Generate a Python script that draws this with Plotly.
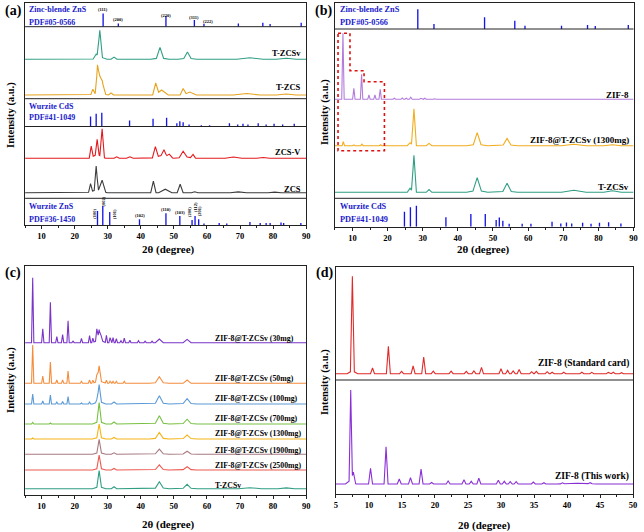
import plotly.graph_objects as go

W, H = 644, 532
FONT = "Liberation Serif"
BLUE = "#1414e6"
TXTBLUE = "#1a1acc"
FRAME = "#222222"

# ---------------- reference cards (2θ, relative stick height) ----------------
zb_pos = [28.6, 33.2, 47.6, 56.2, 59.1, 69.5, 76.9, 79.1, 88.5]
zb_int_a = [13.3, 3.3, 10.7, 6.7, 2.7, 3.3, 4.0, 2.7, 4.0]
zb_int_b = [19.7, 5.0, 11.7, 8.3, 3.3, 3.3, 4.0, 3.0, 4.0]
zb_hkl = ["(111)", "(200)", "(220)", "(311)", "(222)"]
zb_hkl_x = [28.6, 33.2, 47.7, 56.2, 60.3]
zb_hkl_y = [215, 205, 209, 207, 203]

cds_pos = [24.8, 26.5, 28.2, 36.6, 43.7, 47.8, 50.9, 51.8, 52.8, 54.6, 58.3,
           60.8, 66.8, 69.3, 70.9, 72.4, 75.5, 77.9, 80.3, 82.9, 86.4]
cds_int_a = [10, 12.7, 13.7, 6, 7.7, 8.7, 3.3, 5.3, 4.3, 2, 1.3,
             1.3, 3.3, 2, 2.7, 2, 3.3, 2, 2.7, 2, 2.7]
cds_int_b = [15, 19.4, 21, 9.4, 12.7, 12.7, 6.7, 9.3, 6, 3, 3,
             3, 5, 3.3, 4.3, 3.3, 4, 3, 4, 4.5, 3.3]

zns_pos = [26.9, 28.5, 30.6, 39.6, 47.6, 51.8, 55.5, 56.4, 57.5, 59.1,
           63.7, 66.0, 73.0, 76.1, 77.9, 79.1, 82.4, 83.2, 88.4]
zns_int = [14, 19, 13, 5.7, 11.7, 9, 5, 9, 5.7, 1.5,
           2, 1.5, 3, 2, 2, 2, 2.5, 2, 2]
zns_hkl = ["(100)", "(002)", "(101)", "(102)", "(110)", "(103)", "(200)", "(112)", "(201)"]
zns_hkl_x = [25.8, 28.6, 32.0, 39.7, 47.7, 51.7, 54.7, 56.4, 57.8]
zns_hkl_y = [11, 23.5, 11, 9.3, 16, 12.3, 13.3, 18, 13.3]
zns_hkl_rot = [-90, -90, -90, 0, 0, 0, -90, -90, -90]

# ---------------- measured patterns: (2θ, peak height, half base width) ----------------
a_tzcsv = [(26.5, 4, 0.9), (27.6, 26.5, 0.8), (27.6, 2.5, 2.2), (31.9, 2.2, 0.9),
           (45.8, 10.5, 1.1), (45.8, 1.5, 2.8), (54.1, 6, 1.1), (54.1, 1.2, 2.8),
           (73.0, 1.5, 4), (84.0, 1.0, 3)]
a_tzcs = [(25.5, 5, 0.6), (26.9, 25, 0.7), (27.6, 15, 0.9), (28.4, 11, 1.0), (27.2, 2, 3),
          (31.0, 2, 0.8), (44.5, 11.5, 0.9), (46.3, 5, 2.0), (52.8, 6.5, 0.9),
          (54.8, 3, 2.0), (72.0, 1.5, 4), (84.0, 1.0, 3)]
a_zcsv = [(25.0, 11, 0.6), (26.8, 15, 0.6), (28.3, 28, 0.7), (26.8, 4, 2.5),
          (32.7, 1.5, 0.8), (36.7, 1.5, 1.0), (44.4, 10.5, 0.9), (47.0, 6, 0.9),
          (48.6, 3, 1.0), (46.5, 3, 3.5), (52.8, 6, 1.2), (55.8, 3.5, 0.8),
          (53.5, 1.5, 3), (68.0, 1.3, 2.5), (77.0, 0.8, 2)]
a_zcs = [(24.8, 8, 0.6), (26.5, 24, 0.6), (28.3, 11, 1.1), (26.8, 3, 3),
         (43.8, 11.5, 0.8), (47.4, 3.5, 2.0), (51.9, 8.5, 0.9), (56.3, 1, 1),
         (69.5, 0.8, 2.5), (80.5, 0.6, 2)]

b_zif8 = [(7.3, 66, 0.35), (10.4, 11, 0.35), (12.6, 25, 0.35), (14.7, 4.3, 0.35),
          (16.4, 4.3, 0.35), (17.9, 10, 0.35), (21.9, 1.0, 0.4), (24.2, 1.3, 0.4),
          (25.3, 1.0, 0.4), (26.6, 2.0, 0.4), (29.5, 1.0, 0.4), (30.6, 1.0, 0.4),
          (33.4, 0.5, 0.4), (36.2, 0.7, 0.4)]
b_comp = [(7.4, 4, 0.35), (10.4, 0.8, 0.35), (12.7, 1.5, 0.35), (18.0, 1, 0.35),
          (26.4, 3, 0.8), (27.5, 37, 0.7), (31.8, 2.3, 0.8), (45.5, 11.5, 1.1),
          (45.5, 1.5, 3), (54.0, 6.3, 1.1), (54.0, 1, 3), (73.0, 1.5, 3.5), (84.0, 1.0, 2.5)]
b_tzcsv = [(26.4, 4, 0.8), (27.5, 37, 0.7), (31.8, 2.7, 0.8), (45.5, 12.7, 1.2),
           (45.5, 2, 3), (54.0, 7.8, 1.2), (54.0, 1.2, 3), (73.0, 2, 3.5), (84.0, 1.5, 2.5)]

c_30 = [(7.3, 65, 0.35), (10.35, 14, 0.35), (12.65, 40.5, 0.35), (14.6, 6, 0.35),
        (16.35, 8, 0.35), (18.0, 22, 0.35), (19.5, 1.5, 0.35), (22.05, 4.3, 0.35),
        (24.5, 7, 0.35), (25.5, 4.3, 0.35), (26.7, 12, 0.4), (27.4, 10, 0.6),
        (28.0, 5, 0.5), (27.4, 3, 2), (29.6, 7.3, 0.35), (30.7, 5, 0.35),
        (31.6, 5, 0.35), (32.6, 4, 0.35), (34.0, 2, 0.35), (35.0, 4.5, 0.35),
        (36.7, 2.5, 0.35), (39.3, 2, 0.35), (41.3, 1.5, 0.35), (43.4, 1.5, 0.35),
        (45.6, 3.7, 1.2), (54.0, 3.3, 1.2)]
c_50 = [(7.3, 38.3, 0.35), (10.35, 7.3, 0.35), (12.65, 21.3, 0.35), (14.6, 3.3, 0.35),
        (16.35, 3.5, 0.35), (18.0, 12.3, 0.35), (22.05, 2, 0.35), (24.5, 3.3, 0.35),
        (25.5, 3, 0.35), (26.7, 7, 0.4), (27.4, 15, 0.7), (27.4, 2.5, 2),
        (29.6, 3, 0.35), (30.7, 2, 0.35), (31.6, 2, 0.35), (32.6, 2, 0.35),
        (35.0, 2, 0.35), (45.6, 5.5, 1.2), (45.6, 1, 3), (54.0, 3.3, 1.2)]
c_100 = [(7.3, 10, 0.35), (10.35, 3, 0.35), (12.65, 9, 0.35), (14.6, 2, 0.35),
         (16.35, 2.5, 0.35), (18.0, 7.3, 0.35), (22.05, 1, 0.35), (24.5, 2, 0.35),
         (26.7, 3, 0.4), (27.4, 17, 0.7), (27.4, 2.5, 2), (31.9, 2, 0.8),
         (45.6, 7, 1.2), (45.6, 1.2, 3), (54.0, 4.5, 1.2), (54.0, 0.8, 3)]
c_700 = [(7.3, 1.5, 0.35), (12.65, 1, 0.35), (27.4, 19, 0.7), (27.4, 2.5, 2),
         (31.9, 2, 0.8), (45.6, 7, 1.2), (45.6, 1.2, 3), (54.0, 4, 1.2), (54.0, 0.8, 3)]
c_1300 = [(7.3, 1, 0.35), (27.4, 13, 0.7), (27.4, 2, 2), (31.9, 1.5, 0.8),
          (45.6, 5.5, 1.2), (45.6, 1, 3), (54.0, 3.3, 1.2), (54.0, 0.7, 3)]
c_1900 = [(27.4, 13, 0.7), (27.4, 2, 2), (31.9, 1.5, 0.8), (45.6, 4.3, 1.2),
          (45.6, 0.8, 3), (54.0, 2.5, 1.2), (54.0, 0.6, 3)]
c_2500 = [(27.4, 13, 0.7), (27.4, 2, 2), (31.9, 1.5, 0.8), (45.6, 4.3, 1.2),
          (45.6, 0.8, 3), (54.0, 2.7, 1.2), (54.0, 0.6, 3)]
c_tzcsv = [(27.4, 16, 0.7), (27.4, 2, 2), (31.9, 2, 0.8), (45.6, 6, 1.2),
           (45.6, 1, 3), (54.0, 3.7, 1.2), (54.0, 0.7, 3), (73.0, 1, 3.5), (84.0, 0.8, 2.5)]

d_std = [(7.5, 94.5, 0.3), (7.5, 3, 0.8), (10.55, 5.7, 0.3), (12.95, 27.3, 0.3),
         (14.95, 2.3, 0.3), (16.7, 7.7, 0.3), (18.3, 16.7, 0.3), (19.75, 2.5, 0.3),
         (22.45, 2.5, 0.3), (24.75, 2.3, 0.3), (25.9, 2.7, 0.3), (27.05, 6.3, 0.3),
         (30.0, 5, 0.3), (31.0, 3.3, 0.3), (31.85, 2.7, 0.3), (32.75, 4.3, 0.3),
         (34.65, 2, 0.3), (35.35, 2.3, 0.3), (37.0, 2, 0.3), (37.75, 1.5, 0.3),
         (39.5, 1.5, 0.3), (42.25, 1.5, 0.3), (43.75, 1.3, 0.3), (46.25, 1.3, 0.3),
         (47.0, 1.5, 0.3), (48.25, 1.0, 0.3)]
d_this = [(7.25, 90, 0.25), (7.25, 4, 0.8), (7.65, 10, 0.35), (10.25, 15.7, 0.3),
          (12.6, 37.3, 0.3), (14.6, 5, 0.3), (16.3, 6.3, 0.3), (17.9, 15, 0.3),
          (19.5, 1.5, 0.3), (22.0, 3, 0.3), (24.4, 4.3, 0.3), (25.5, 2.7, 0.3),
          (26.65, 5.7, 0.3), (29.6, 3.7, 0.3), (30.5, 2.7, 0.3), (31.4, 2.3, 0.3),
          (32.3, 2.3, 0.3), (34.9, 2, 0.3), (36.5, 1.3, 0.3), (39.3, 1, 0.3),
          (41.5, 0.8, 3), (43.5, 1, 0.3)]

# highlight box in panel (b) (2θ / intensity units of that panel)
box_x = [5.9, 9.3, 9.3, 13.3, 13.3, 19.1, 19.1, 5.9]
box_y = [193.4, 193.4, 156.0, 156.0, 145.0, 145.0, 76.0, 76.0]

# ---------------- panel geometry (pixels) ----------------
PANEL = {
    "a": dict(n="", px=(23.3, 307.0), py=(3.0, 225.0), xr=(5, 90), dt=10),
    "b": dict(n="2", px=(336.0, 637.5), py=(3.0, 226.7), xr=(5, 90), dt=10),
    "c": dict(n="3", px=(23.3, 307.0), py=(266.0, 495.0), xr=(5, 90), dt=10),
    "d": dict(n="4", px=(337.0, 637.0), py=(267.0, 494.0), xr=(5, 50), dt=5),
}


def tri_profile(peaks, x0, x1):
    pts = {x0, x1}
    for p, h, w in peaks:
        pts.update((p - w, p, p + w))
    xs = sorted(x for x in pts if x0 <= x <= x1)
    ys = [sum(h * max(0.0, 1 - abs(x - p) / w) for p, h, w in peaks) for x in xs]
    return xs, ys


fig = go.Figure()


def axes(k):
    n = PANEL[k]["n"]
    return "x" + n, "y" + n


def curve(k, peaks, base, color):
    xa, ya = axes(k)
    xs, ys = tri_profile(peaks, *PANEL[k]["xr"])
    fig.add_trace(go.Scatter(x=xs, y=[base + v for v in ys], mode="lines",
                             line=dict(color=color, width=1.1), xaxis=xa, yaxis=ya,
                             hoverinfo="skip", showlegend=False))


def sticks(k, pos, hgt, base, width):
    xa, ya = axes(k)
    fig.add_trace(go.Bar(x=pos, y=hgt, base=base, width=width, xaxis=xa, yaxis=ya,
                         marker=dict(color=BLUE, line=dict(width=0)),
                         hoverinfo="skip", showlegend=False))


def hline(k, y):
    xa, ya = axes(k)
    fig.add_shape(type="line", xref=xa + " domain", yref=ya, x0=0, x1=1, y0=y, y1=y,
                  line=dict(color=FRAME, width=1))


def text(k, x, y, s, size, color="black", anchor="right", angle=0):
    xa, ya = axes(k)
    fig.add_annotation(x=x, y=y, xref=xa, yref=ya, text=s, showarrow=False,
                       xanchor=anchor, yanchor="middle", textangle=angle,
                       font=dict(family=FONT, size=size, color=color, weight="bold"))


def ptext(px, py, s, size, angle=0):
    fig.add_annotation(x=px / W, y=1 - py / H, xref="paper", yref="paper", text=s,
                       showarrow=False, xanchor="center", yanchor="middle",
                       textangle=angle,
                       font=dict(family=FONT, size=size, color="black", weight="bold"))


# ---- panel (a)
sticks("a", zb_pos, zb_int_a, 198.3, 0.4)
curve("a", a_tzcsv, 165.7, "#2f9e83")
curve("a", a_tzcs, 130.0, "#e6a31e")
sticks("a", cds_pos, cds_int_a, 98.5, 0.4)
curve("a", a_zcsv, 66.7, "#e3191c")
curve("a", a_zcs, 32.3, "#3c3c3c")
sticks("a", zns_pos, zns_int, 0, 0.4)
for y in (198.3, 126.3, 98.5, 26.7):
    hline("a", y)
text("a", 5.6, 215.5, "Zinc-blende ZnS", 8, TXTBLUE, "left")
text("a", 5.6, 202.5, "PDF#05-0566", 8, TXTBLUE, "left")
text("a", 5.6, 118, "Wurzite CdS", 8, TXTBLUE, "left")
text("a", 5.6, 107, "PDF#41-1049", 8, TXTBLUE, "left")
text("a", 5.6, 18.3, "Wurzite ZnS", 8, TXTBLUE, "left")
text("a", 5.6, 5.5, "PDF#36-1450", 8, TXTBLUE, "left")
for s, x, y in zip(zb_hkl, zb_hkl_x, zb_hkl_y):
    text("a", x, y, s, 4.5, "black", "center")
for s, x, y, r in zip(zns_hkl, zns_hkl_x, zns_hkl_y, zns_hkl_rot):
    text("a", x, y, s, 4.5, "black", "center", r)
text("a", 89.2, 172, "T-ZCSv", 8.5)
text("a", 89.2, 138, "T-ZCS", 8.5)
text("a", 89.2, 73.3, "ZCS-V", 8.5)
text("a", 89.2, 36, "ZCS", 8.5)

# ---- panel (b)
sticks("b", zb_pos, zb_int_b, 197.7, 0.38)
curve("b", b_zif8, 127.4, "#b27bdc")
curve("b", b_comp, 81.0, "#f2ac1c")
curve("b", b_tzcsv, 34.4, "#2f9e83")
sticks("b", cds_pos, cds_int_b, 0, 0.38)
for y in (197.7, 28.4):
    hline("b", y)
fig.add_trace(go.Scatter(x=box_x + box_x[:1], y=box_y + box_y[:1], mode="lines",
                         line=dict(color="#e01010", width=1.6, dash="dot"),
                         xaxis="x2", yaxis="y2", hoverinfo="skip", showlegend=False))
text("b", 5.8, 217.4, "Zinc-blende ZnS", 8.3, TXTBLUE, "left")
text("b", 5.8, 204, "PDF#05-0566", 8.3, TXTBLUE, "left")
text("b", 5.8, 20.7, "Wurzite CdS", 8.3, TXTBLUE, "left")
text("b", 5.8, 7.4, "PDF#41-1049", 8.3, TXTBLUE, "left")
text("b", 89.4, 131.7, "ZIF-8", 9)
text("b", 89.4, 86.7, "ZIF-8@T-ZCSv (1300mg)", 9)
text("b", 89.4, 40, "T-ZCSv", 9)

# ---- panel (c)
c_series = [(c_30, 152.3, "#7a35c8", "ZIF-8@T-ZCSv (30mg)", 156.7),
            (c_50, 111.7, "#f38d3e", "ZIF-8@T-ZCSv (50mg)", 116.7),
            (c_100, 91.0, "#5a9ad6", "ZIF-8@T-ZCSv (100mg)", 96.7),
            (c_700, 71.0, "#78c043", "ZIF-8@T-ZCSv (700mg)", 76.7),
            (c_1300, 56.0, "#f5b417", "ZIF-8@T-ZCSv (1300mg)", 61.7),
            (c_1900, 40.7, "#a87a80", "ZIF-8@T-ZCSv (1900mg)", 45.0),
            (c_2500, 25.0, "#ec5a50", "ZIF-8@T-ZCSv (2500mg)", 29.3),
            (c_tzcsv, 6.3, "#2f9e83", "T-ZCSv", 10.0)]
for pk, base, col, lab, ly in c_series:
    curve("c", pk, base, col)
    text("c", 61.8, ly, lab, 7.8, "black", "left")

# ---- panel (d)
curve("d", d_std, 120.3, "#e02a2a")
curve("d", d_this, 10.0, "#8a2fd6")
hline("d", 114)
text("d", 49.75, 130.7, "ZIF-8 (Standard card)", 9.5)
text("d", 49.75, 18, "ZIF-8 (This work)", 9.5)

# ---- axes
lay = {}
for k, p in PANEL.items():
    n = p["n"]
    lay["xaxis" + n] = dict(
        domain=[p["px"][0] / W, p["px"][1] / W], anchor="y" + n, range=list(p["xr"]),
        tick0=0, dtick=p["dt"], ticks="outside", ticklen=3, tickwidth=1, tickcolor=FRAME,
        minor=dict(ticks="outside", ticklen=2, dtick=p["dt"] / 2, tickcolor=FRAME),
        showline=True, mirror=True, linecolor=FRAME, linewidth=1, showgrid=False,
        zeroline=False, fixedrange=True,
        tickfont=dict(family=FONT, size=8.5, color="black", weight="bold"))
    lay["yaxis" + n] = dict(
        domain=[1 - p["py"][1] / H, 1 - p["py"][0] / H], anchor="x" + n,
        range=[0, p["py"][1] - p["py"][0]], showticklabels=False, ticks="",
        showline=True, mirror=True, linecolor=FRAME, linewidth=1, showgrid=False,
        zeroline=False, fixedrange=True)

fig.update_layout(width=W, height=H, margin=dict(l=0, r=0, t=0, b=0),
                  paper_bgcolor="white", plot_bgcolor="white", barmode="overlay",
                  showlegend=False, **lay)

# axis titles and panel letters
for px, py in [(168, 249), (486.5, 249.5), (168, 524), (487, 525)]:
    ptext(px, py, "2θ (degree)", 11)
for px, py in [(9, 115), (326, 112), (9, 380), (326, 382)]:
    ptext(px, py, "Intensity (a.u.)", 10.5, -90)
for px, py, s in [(12, 10.5, "(a)"), (325, 10.5, "(b)"), (11, 273, "(c)"), (326, 273, "(d)")]:
    ptext(px, py, s, 14)

fig.write_html(
    "out.html",
    config={"displayModeBar": False, "staticPlot": True},
    post_script="document.body.style.margin='0';document.body.style.padding='0';"
                "document.body.style.overflow='hidden';",
)
